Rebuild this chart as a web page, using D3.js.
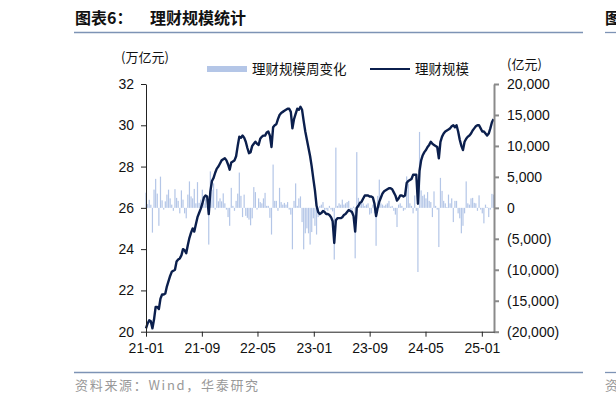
<!DOCTYPE html>
<html><head><meta charset="utf-8">
<script src="https://cdn.jsdelivr.net/npm/d3@7/dist/d3.min.js"></script>
<style>
html,body{margin:0;padding:0;background:#fff;}
svg{display:block;}
text{font-family:"Liberation Sans",Arial,sans-serif;}
.cjk{font-family:"Noto Sans CJK SC","Noto Sans",sans-serif;}
</style></head>
<body>
<svg id="c" width="616" height="403"></svg>
<script>
// ---- Data ----
const startDate = "2021-01-01"; // weekly observations
// 理财规模 (万亿元), weekly
const scaleValues = [
20.16,20.4,20.55,20.5,20.16,20.6,21.2,21.2,21.1,21.6,
21.8,21.8,21.85,22.2,22.45,22.7,22.9,22.95,23.0,23.4,
23.5,23.55,23.7,24.0,23.95,23.8,24.2,24.55,24.8,25.0,
24.85,25.2,25.55,25.75,25.95,26.2,26.5,26.6,26.55,25.7,
26.8,27.3,27.45,27.7,27.9,28.0,28.15,28.3,28.35,28.4,
28.3,28.1,27.85,28.2,28.25,28.3,28.5,29.0,29.45,29.4,
29.5,29.4,29.2,28.9,28.65,28.7,29.0,29.1,29.2,29.1,
29.05,29.35,29.45,29.5,29.5,29.65,29.7,29.5,28.95,29.9,
30.0,30.05,30.3,30.5,30.6,30.65,30.7,30.75,30.8,30.8,
30.65,29.85,30.3,30.55,30.8,30.75,30.9,30.75,30.2,29.7,
29.3,28.9,28.5,28.0,27.4,26.85,26.1,25.8,25.7,25.75,
25.85,25.8,25.7,25.7,25.65,25.55,25.35,24.3,25.4,25.5,
25.5,25.5,25.55,25.65,25.7,25.8,25.9,25.85,25.8,25.6,
24.85,26.0,26.1,26.25,26.3,26.45,26.6,26.6,26.6,26.55,
26.55,26.5,26.2,25.6,26.0,26.3,26.5,26.7,26.8,26.85,
26.9,26.95,26.95,26.9,26.75,26.6,26.35,26.45,26.6,26.6,
26.55,26.6,27.2,27.3,27.35,27.4,27.6,27.6,27.6,26.2,
27.8,28.3,28.55,28.7,28.8,28.95,29.05,29.2,29.1,29.05,
29.0,28.95,28.4,29.2,29.45,29.6,29.7,29.75,29.8,29.85,
29.95,30.0,29.9,30.0,29.7,29.3,29.0,28.8,29.2,29.35,
29.45,29.5,29.6,29.75,29.85,29.95,30.0,30.0,29.85,29.7,
29.7,29.6,29.5,29.6,29.85,30.15,30.3
];
// 理财规模周变化 (亿元), weekly
const weeklyChange = [
2450,600,1300,500,-4000,2950,4680,2300,-2900,5040,
1210,-280,1050,2140,2940,1530,520,-480,3020,1610,
1130,-890,2820,1330,-890,-1690,2140,4270,1850,1530,
3060,730,4150,810,1330,2940,730,1530,300,-5930,
5890,2940,3950,-280,3060,1050,1530,1050,2340,730,
-280,-1490,-2900,3230,320,-480,1130,2300,5700,1940,
-1490,2140,-1290,-1610,-1900,-2820,-1690,3350,2540,-280,
1530,930,730,1530,2420,320,320,-1610,-4310,6990,
1130,1130,-480,3230,930,520,800,520,930,-280,
-1090,-6690,1130,3950,320,1530,1850,-2300,-6700,-4110,
-3310,-4110,-5930,-3910,-1690,-2900,-4310,-1490,320,520,
930,-480,-280,-480,320,-280,-570,-8350,9730,320,
730,520,1330,520,730,930,1130,-280,-690,200,
-8150,9000,1610,730,930,730,300,520,730,-1090,
-890,520,-890,-6130,1940,4560,730,520,320,520,
730,1130,200,320,-480,-1090,-3100,520,730,320,
-480,-280,5080,3950,730,320,-890,2000,-480,-10360,
12260,2820,1940,2140,1530,2540,1130,930,-1490,2660,
320,-280,-6330,4840,2740,1130,730,120,2140,730,
1530,-2300,1130,1130,-890,-1690,-4110,-2900,-890,4270,
730,520,1530,1610,810,730,-480,2020,-280,-890,
-2500,520,120,-1490,-280,2260,2140
];
const xTickLabels = ["21-01","21-09","22-05","23-01","23-09","24-05","25-01"];
const leftTicks = [20,22,24,26,28,30,32];
const rightTicks = [-20000,-15000,-10000,-5000,0,5000,10000,15000,20000];
const seriesNames = ["理财规模周变化","理财规模"];
const titleLabel = "图表6：";
const titleText = "理财规模统计";
const sourceText = "资料来源：Wind，华泰研究";

// ---- Build ----
const parse = d3.timeParse("%Y-%m-%d");
const t0 = parse(startDate);
const dates = scaleValues.map((_, i) => d3.timeDay.offset(t0, 7 * i));
const tickDates = xTickLabels.map(s => d3.timeParse("%y-%m")(s));

const svg = d3.select("#c");
const L = 146, R = 494, T = 84, B = 331.7;

const x = d3.scaleTime().domain([t0, d3.timeDay.offset(t0, 1514)]).range([L, R]);
const yL = d3.scaleLinear().domain([20, 32]).range([B, T]);
const yR = d3.scaleLinear().domain([-20000, 20000]).range([B, T]);

const navy = "#0b1f4d", barC = "#b4c6e7";

// title
svg.append("text").attr("class","cjk").attr("x",75).attr("y",24)
  .attr("font-size",16).attr("font-weight","bold").attr("fill","#111").text(titleLabel);
svg.append("text").attr("class","cjk").attr("x",150).attr("y",24)
  .attr("font-size",16).attr("font-weight","bold").attr("fill","#111").text(titleText);
svg.append("line").attr("x1",74).attr("x2",583).attr("y1",32.5).attr("y2",32.5)
  .attr("stroke","#7d93b5").attr("stroke-width",1.3);
svg.append("text").attr("class","cjk").attr("x",605).attr("y",24)
  .attr("font-size",16).attr("font-weight","bold").attr("fill","#111").text("图");
svg.append("line").attr("x1",605).attr("x2",616).attr("y1",32.5).attr("y2",32.5)
  .attr("stroke","#7d93b5").attr("stroke-width",1.3);

// bars
svg.append("g").selectAll("rect").data(weeklyChange).join("rect")
  .attr("x", (d, i) => x(dates[i]) - 0.6)
  .attr("width", 1.2)
  .attr("y", d => Math.min(yR(0), yR(d)))
  .attr("height", d => Math.abs(yR(d) - yR(0)))
  .attr("fill", barC);

// line
svg.append("path").datum(scaleValues)
  .attr("d", d3.line().x((d, i) => x(dates[i])).y(d => yL(d)))
  .attr("fill","none").attr("stroke",navy).attr("stroke-width",2.4)
  .attr("stroke-linejoin","round");

// left axis
const gL = svg.append("g").attr("transform",`translate(${L},0)`)
  .call(d3.axisLeft(yL).tickValues(leftTicks).tickSize(5).tickSizeOuter(0).tickPadding(7));
gL.selectAll("path,line").attr("stroke","#222");
gL.selectAll("text").attr("font-size",14).attr("fill","#111")
  .attr("font-family","'Liberation Sans',Arial,sans-serif");

// right axis
const fmtR = v => v < 0 ? "(" + d3.format(",")(-v) + ")" : d3.format(",")(v);
const gR = svg.append("g").attr("transform",`translate(${R},0)`)
  .call(d3.axisRight(yR).tickValues(rightTicks).tickFormat(fmtR).tickSize(5).tickSizeOuter(0).tickPadding(8));
gR.selectAll("path,line").attr("stroke","#8a8a8a").attr("stroke-width",2);
gR.selectAll("text").attr("font-size",14).attr("fill","#111")
  .attr("font-family","'Liberation Sans',Arial,sans-serif");

// bottom axis
const gB = svg.append("g").attr("transform",`translate(0,${B})`)
  .call(d3.axisBottom(x).tickValues(tickDates).tickFormat(d3.timeFormat("%y-%m")).tickSize(5).tickSizeOuter(0).tickPadding(6));
gB.selectAll("path,line").attr("stroke","#222");
gB.selectAll("text").attr("font-size",14).attr("fill","#111")
  .attr("font-family","'Liberation Sans',Arial,sans-serif");

// unit labels
svg.append("text").attr("class","cjk").attr("x",121).attr("y",62)
  .attr("font-size",13).attr("fill","#111").text("(万亿元)");
svg.append("text").attr("class","cjk").attr("x",507).attr("y",69)
  .attr("font-size",13).attr("fill","#111").text("(亿元)");

// legend
svg.append("rect").attr("x",207).attr("y",66).attr("width",40).attr("height",6).attr("fill",barC);
svg.append("text").attr("class","cjk").attr("x",252).attr("y",74)
  .attr("font-size",13.5).attr("fill","#111").text(seriesNames[0]);
svg.append("line").attr("x1",370).attr("x2",410).attr("y1",69).attr("y2",69)
  .attr("stroke",navy).attr("stroke-width",2.2);
svg.append("text").attr("class","cjk").attr("x",415).attr("y",74)
  .attr("font-size",13.5).attr("fill","#111").text(seriesNames[1]);

// footer
svg.append("line").attr("x1",74).attr("x2",583).attr("y1",372.5).attr("y2",372.5)
  .attr("stroke","#7d93b5").attr("stroke-width",1.3);
svg.append("line").attr("x1",605).attr("x2",616).attr("y1",372.5).attr("y2",372.5)
  .attr("stroke","#7d93b5").attr("stroke-width",1.3);
svg.append("text").attr("class","cjk").attr("x",75).attr("y",390)
  .attr("font-size",13).attr("letter-spacing",1.7).attr("fill","#999").text(sourceText);
svg.append("text").attr("class","cjk").attr("x",605).attr("y",390)
  .attr("font-size",13).attr("fill","#999").text("资");
</script>
</body></html>
